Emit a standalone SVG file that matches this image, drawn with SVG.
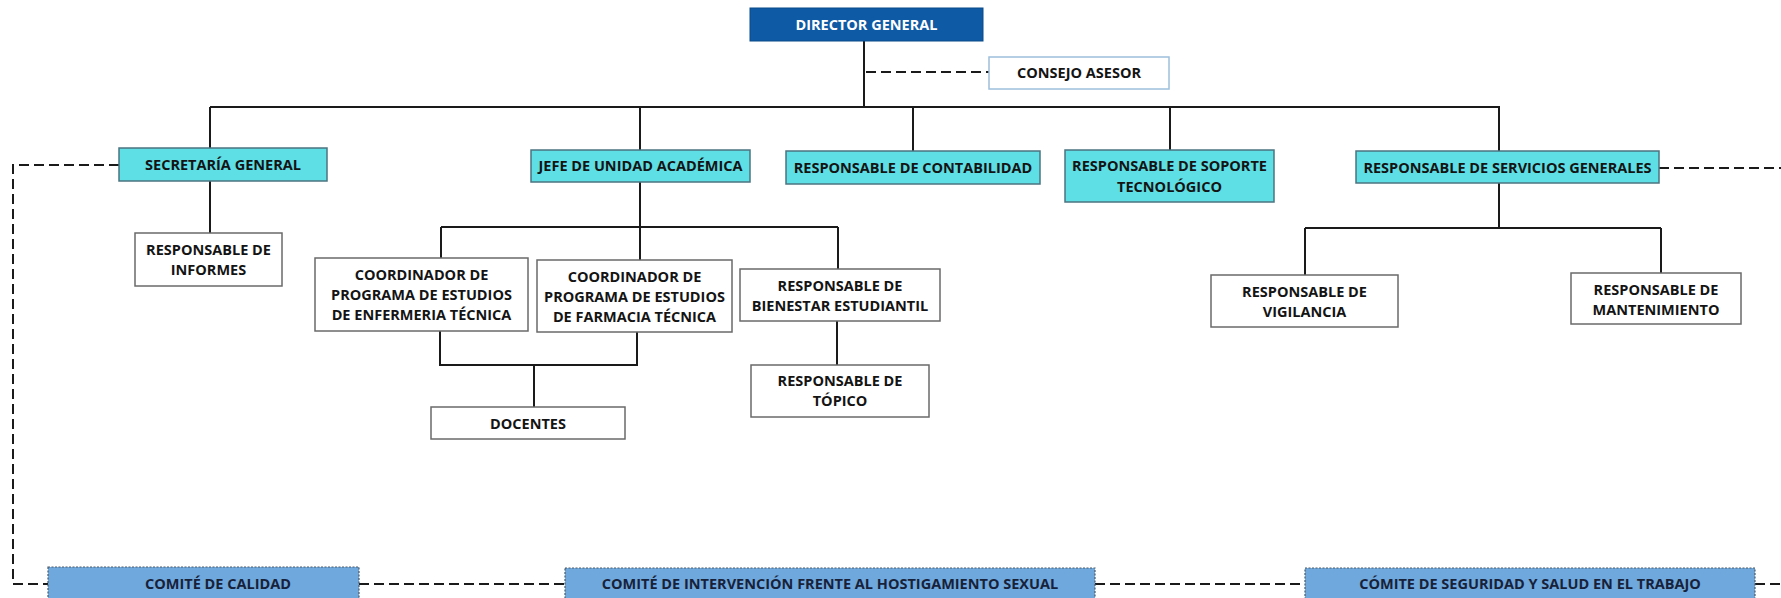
<svg xmlns="http://www.w3.org/2000/svg" width="1781" height="598" viewBox="0 0 1781 598">
<style>
text{font-family:"Open Sans","Noto Sans","Liberation Sans",sans-serif;font-weight:700;font-size:14.5px;text-anchor:middle;fill:#141414}
.box{fill:#ffffff;stroke:#6a6a6a;stroke-width:1.5}
.cyan{fill:#5ddfe5;stroke:#4b7480;stroke-width:1.5}
.dir{fill:#0f5aa4;stroke:#0b4a88;stroke-width:1}
.cons{fill:#ffffff;stroke:#9dbfdc;stroke-width:1.5}
.com{fill:#6fa8dc;stroke:#4a5a6a;stroke-width:1.2;stroke-dasharray:2 1.5}
.w{fill:#ffffff}
.ct{fill:#17223a}
.ln{fill:none;stroke:#1a1a1a;stroke-width:2}
.dash{fill:none;stroke:#1a1a1a;stroke-width:2;stroke-dasharray:10 5}
</style>
<rect width="1781" height="598" fill="#ffffff"/>
<g id="connectors">
<path class="ln" d="M864 41V107M210 107H1500M210 107V148M640 107V150M913 107V151M1170 107V150M1499 107V151"/>
<path class="ln" d="M210 181V233"/>
<path class="ln" d="M640 182V260M441 227H838M441 227V258M838 227V269"/>
<path class="ln" d="M440 331V365H637V332M534 365V407"/>
<path class="ln" d="M837 321V365"/>
<path class="ln" d="M1499 183V228M1305 228H1661M1305 228V275M1661 228V273"/>
<path class="dash" d="M866 72H989"/>
<path class="dash" d="M119 165H13V584H48"/>
<path class="dash" d="M1659 168H1781"/>
<path class="dash" d="M359 584H565M1095 584H1305M1755 584H1781"/>
</g>
<g id="director"><rect class="dir" x="750" y="8" width="233" height="33"/><text class="w" x="866.5" y="30">DIRECTOR GENERAL</text></g>
<g id="consejo"><rect class="cons" x="989" y="57" width="180" height="32"/><text x="1079" y="78">CONSEJO ASESOR</text></g>
<g id="secretaria"><rect class="cyan" x="119" y="148" width="208" height="33"/><text x="223" y="170">SECRETARÍA GENERAL</text></g>
<g id="jefe"><rect class="cyan" x="531" y="150" width="219" height="32"/><text x="640.5" y="171">JEFE DE UNIDAD ACADÉMICA</text></g>
<g id="contabilidad"><rect class="cyan" x="786" y="151" width="254" height="33"/><text x="913" y="173">RESPONSABLE DE CONTABILIDAD</text></g>
<g id="soporte"><rect class="cyan" x="1065" y="150" width="209" height="52"/><text x="1169.5" y="171">RESPONSABLE DE SOPORTE</text><text x="1169.5" y="192">TECNOLÓGICO</text></g>
<g id="servicios"><rect class="cyan" x="1356" y="151" width="303" height="32"/><text x="1507.5" y="172.5">RESPONSABLE DE SERVICIOS GENERALES</text></g>
<g id="informes"><rect class="box" x="135" y="233" width="147" height="53"/><text x="208.5" y="255">RESPONSABLE DE</text><text x="208.5" y="275">INFORMES</text></g>
<g id="coord-enfermeria"><rect class="box" x="315" y="258" width="213" height="73"/><text x="421.5" y="280">COORDINADOR DE</text><text x="421.5" y="300">PROGRAMA DE ESTUDIOS</text><text x="421.5" y="320">DE ENFERMERIA TÉCNICA</text></g>
<g id="coord-farmacia"><rect class="box" x="537" y="260" width="195" height="72"/><text x="634.5" y="282">COORDINADOR DE</text><text x="634.5" y="302">PROGRAMA DE ESTUDIOS</text><text x="634.5" y="322">DE FARMACIA TÉCNICA</text></g>
<g id="bienestar"><rect class="box" x="740" y="269" width="200" height="52"/><text x="840" y="291">RESPONSABLE DE</text><text x="840" y="311">BIENESTAR ESTUDIANTIL</text></g>
<g id="topico"><rect class="box" x="751" y="365" width="178" height="52"/><text x="840" y="386">RESPONSABLE DE</text><text x="840" y="406">TÓPICO</text></g>
<g id="docentes"><rect class="box" x="431" y="407" width="194" height="32"/><text x="528" y="429">DOCENTES</text></g>
<g id="vigilancia"><rect class="box" x="1211" y="275" width="187" height="52"/><text x="1304.5" y="297">RESPONSABLE DE</text><text x="1304.5" y="317">VIGILANCIA</text></g>
<g id="mantenimiento"><rect class="box" x="1571" y="273" width="170" height="51"/><text x="1656" y="294.5">RESPONSABLE DE</text><text x="1656" y="314.5">MANTENIMIENTO</text></g>
<g id="comite-calidad"><rect class="com" x="48" y="567" width="311" height="40"/><text class="ct" x="218" y="589">COMITÉ DE CALIDAD</text></g>
<g id="comite-hostigamiento"><rect class="com" x="565" y="568" width="530" height="40"/><text class="ct" x="830" y="589">COMITÉ DE INTERVENCIÓN FRENTE AL HOSTIGAMIENTO SEXUAL</text></g>
<g id="comite-seguridad"><rect class="com" x="1305" y="568" width="450" height="40"/><text class="ct" x="1530" y="589">CÓMITE DE SEGURIDAD Y SALUD EN EL TRABAJO</text></g>
</svg>
